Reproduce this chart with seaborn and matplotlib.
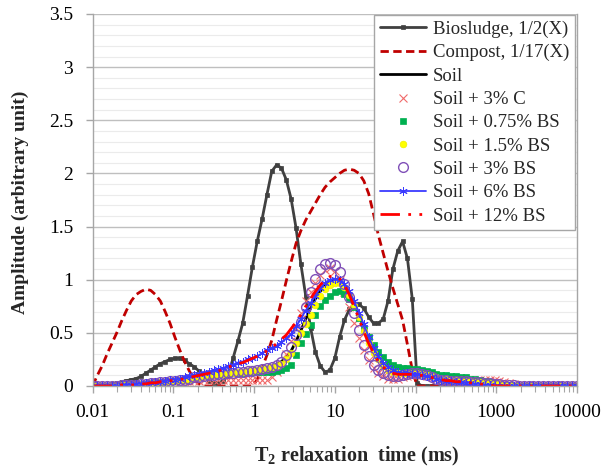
import numpy as np
import matplotlib
matplotlib.use("Agg")
import matplotlib.pyplot as plt
import seaborn as sns
from matplotlib.ticker import FixedLocator, NullFormatter, LogLocator, MultipleLocator

sns.set_theme(style="white")
plt.rcParams['font.family'] = ['Liberation Serif', 'DejaVu Serif']
plt.rcParams['mathtext.fontset'] = 'custom'
plt.rcParams['mathtext.rm'] = 'Liberation Serif:bold'
plt.rcParams['mathtext.it'] = 'Liberation Serif:bold'
plt.rcParams['mathtext.bf'] = 'Liberation Serif:bold'
plt.rcParams['mathtext.default'] = 'rm'

# T2 sampling grid (ms), 101 log-spaced points from 0.01 to 10000
t2_ms = np.logspace(-2, 4, 101)

biosludge = [0.00, 0.00, 0.01, 0.01, 0.02, 0.03, 0.04, 0.05, 0.06, 0.07,
             0.09, 0.12, 0.15, 0.18, 0.21, 0.23, 0.25, 0.26, 0.26, 0.24,
             0.21, 0.18, 0.14, 0.09, 0.05, 0.03, 0.03, 0.05, 0.10, 0.26,
             0.42, 0.59, 0.85, 1.12, 1.36, 1.57, 1.80, 2.02, 2.08, 2.05,
             1.94, 1.76, 1.49, 1.15, 0.85, 0.55, 0.32, 0.19, 0.13, 0.15,
             0.26, 0.46, 0.62, 0.72, 0.77, 0.77, 0.73, 0.65, 0.59, 0.59,
             0.63, 0.80, 1.10, 1.27, 1.36, 1.20, 0.82, 0.03, 0.00, 0.00,
             0.00, 0.00, 0.00, 0.00, 0.00, 0.00, 0.00, 0.00, 0.00, 0.00,
             0.00, 0.00, 0.00, 0.00, 0.00, 0.00, 0.00, 0.00, 0.00, 0.00,
             0.00, 0.00, 0.00, 0.00, 0.00, 0.00, 0.00, 0.00, 0.00, 0.00,
             0.00]

compost = [0.00, 0.10, 0.19, 0.30, 0.40, 0.50, 0.61, 0.71, 0.80, 0.86,
           0.89, 0.91, 0.90, 0.86, 0.80, 0.70, 0.59, 0.46, 0.34, 0.23,
           0.14, 0.06, 0.02, 0.00, 0.00, 0.00, 0.00, 0.00, 0.00, 0.00,
           0.00, 0.00, 0.00, 0.00, 0.06, 0.17, 0.29, 0.43, 0.62, 0.80,
           0.99, 1.17, 1.34, 1.46, 1.56, 1.64, 1.72, 1.80, 1.87, 1.92,
           1.96, 2.00, 2.03, 2.04, 2.03, 2.00, 1.93, 1.81, 1.62, 1.42,
           1.25, 1.08, 0.92, 0.77, 0.62, 0.39, 0.15, 0.00, 0.00, 0.00,
           0.00, 0.00, 0.00, 0.00, 0.00, 0.00, 0.00, 0.00, 0.00, 0.00,
           0.00, 0.00, 0.00, 0.00, 0.00, 0.00, 0.00, 0.00, 0.00, 0.00,
           0.00, 0.00, 0.00, 0.00, 0.00, 0.00, 0.00, 0.00, 0.00, 0.00,
           0.00]

soil = [0.00, 0.00, 0.00, 0.00, 0.00, 0.00, 0.01, 0.01, 0.01, 0.01,
        0.02, 0.02, 0.03, 0.03, 0.04, 0.04, 0.05, 0.05, 0.06, 0.06,
        0.07, 0.08, 0.08, 0.09, 0.10, 0.10, 0.11, 0.11, 0.12, 0.12,
        0.13, 0.13, 0.14, 0.14, 0.15, 0.16, 0.17, 0.18, 0.20, 0.23,
        0.27, 0.33, 0.42, 0.52, 0.63, 0.73, 0.82, 0.89, 0.95, 0.99,
        1.00, 0.99, 0.95, 0.88, 0.78, 0.67, 0.55, 0.43, 0.33, 0.26,
        0.20, 0.16, 0.13, 0.12, 0.12, 0.12, 0.12, 0.12, 0.11, 0.10,
        0.09, 0.08, 0.07, 0.07, 0.06, 0.06, 0.05, 0.05, 0.05, 0.04,
        0.04, 0.03, 0.03, 0.02, 0.02, 0.01, 0.01, 0.00, 0.00, 0.00,
        0.00, 0.00, 0.00, 0.00, 0.00, 0.00, 0.00, 0.00, 0.00, 0.00,
        0.00]

soil_3c = [0.00, 0.00, 0.00, 0.00, 0.00, 0.00, 0.01, 0.01, 0.01, 0.01,
           0.01, 0.02, 0.02, 0.02, 0.03, 0.03, 0.03, 0.04, 0.04, 0.04,
           0.05, 0.05, 0.05, 0.06, 0.06, 0.06, 0.06, 0.06, 0.06, 0.06,
           0.06, 0.06, 0.06, 0.06, 0.06, 0.06, 0.06, 0.08, 0.13, 0.21,
           0.30, 0.42, 0.55, 0.69, 0.80, 0.88, 0.97, 1.04, 1.09, 1.11,
           1.08, 1.00, 0.88, 0.74, 0.59, 0.45, 0.34, 0.24, 0.17, 0.12,
           0.09, 0.07, 0.07, 0.07, 0.08, 0.09, 0.10, 0.10, 0.10, 0.09,
           0.08, 0.07, 0.06, 0.05, 0.04, 0.04, 0.04, 0.04, 0.05, 0.05,
           0.06, 0.06, 0.06, 0.06, 0.05, 0.04, 0.03, 0.02, 0.01, 0.01,
           0.00, 0.00, 0.00, 0.00, 0.00, 0.00, 0.00, 0.00, 0.00, 0.00,
           0.00]

soil_075bs = [0.00, 0.00, 0.00, 0.00, 0.00, 0.00, 0.01, 0.01, 0.01, 0.01,
              0.02, 0.02, 0.03, 0.03, 0.04, 0.04, 0.05, 0.05, 0.06, 0.06,
              0.07, 0.08, 0.08, 0.09, 0.10, 0.10, 0.11, 0.11, 0.12, 0.12,
              0.12, 0.12, 0.13, 0.13, 0.13, 0.13, 0.13, 0.13, 0.14, 0.15,
              0.17, 0.20, 0.29, 0.40, 0.49, 0.57, 0.67, 0.75, 0.81, 0.85,
              0.88, 0.89, 0.87, 0.82, 0.74, 0.64, 0.55, 0.46, 0.39, 0.32,
              0.27, 0.23, 0.20, 0.18, 0.17, 0.17, 0.16, 0.16, 0.15, 0.14,
              0.13, 0.11, 0.10, 0.10, 0.09, 0.09, 0.08, 0.08, 0.07, 0.07,
              0.06, 0.05, 0.04, 0.03, 0.02, 0.01, 0.01, 0.00, 0.00, 0.00,
              0.00, 0.00, 0.00, 0.00, 0.00, 0.00, 0.00, 0.00, 0.00, 0.00,
              0.00]

soil_15bs = [0.00, 0.00, 0.00, 0.00, 0.00, 0.00, 0.01, 0.01, 0.01, 0.01,
             0.02, 0.02, 0.03, 0.03, 0.04, 0.04, 0.05, 0.05, 0.06, 0.06,
             0.07, 0.08, 0.08, 0.09, 0.10, 0.10, 0.11, 0.11, 0.12, 0.12,
             0.13, 0.13, 0.14, 0.14, 0.15, 0.16, 0.17, 0.18, 0.19, 0.21,
             0.25, 0.31, 0.40, 0.50, 0.58, 0.67, 0.76, 0.85, 0.91, 0.95,
             0.97, 0.97, 0.93, 0.86, 0.76, 0.65, 0.52, 0.40, 0.31, 0.25,
             0.19, 0.15, 0.13, 0.12, 0.12, 0.12, 0.12, 0.12, 0.11, 0.10,
             0.09, 0.08, 0.07, 0.07, 0.06, 0.06, 0.05, 0.05, 0.05, 0.04,
             0.04, 0.03, 0.03, 0.02, 0.02, 0.01, 0.01, 0.00, 0.00, 0.00,
             0.00, 0.00, 0.00, 0.00, 0.00, 0.00, 0.00, 0.00, 0.00, 0.00,
             0.00]

soil_3bs = [0.00, 0.00, 0.00, 0.00, 0.00, 0.00, 0.01, 0.01, 0.01, 0.01,
            0.02, 0.02, 0.03, 0.03, 0.04, 0.04, 0.05, 0.05, 0.06, 0.06,
            0.07, 0.08, 0.08, 0.09, 0.10, 0.10, 0.11, 0.11, 0.12, 0.12,
            0.13, 0.13, 0.14, 0.14, 0.15, 0.16, 0.17, 0.18, 0.20, 0.23,
            0.29, 0.37, 0.48, 0.60, 0.74, 0.88, 1.01, 1.10, 1.15, 1.16,
            1.14, 1.07, 0.96, 0.84, 0.69, 0.53, 0.39, 0.28, 0.20, 0.15,
            0.12, 0.10, 0.09, 0.09, 0.10, 0.11, 0.12, 0.12, 0.11, 0.10,
            0.08, 0.07, 0.06, 0.06, 0.05, 0.05, 0.05, 0.05, 0.04, 0.04,
            0.04, 0.03, 0.03, 0.02, 0.02, 0.01, 0.01, 0.01, 0.00, 0.00,
            0.00, 0.00, 0.00, 0.00, 0.00, 0.00, 0.00, 0.00, 0.00, 0.00,
            0.00]

soil_6bs = [0.00, 0.00, 0.00, 0.00, 0.00, 0.00, 0.01, 0.01, 0.01, 0.02,
            0.02, 0.03, 0.03, 0.04, 0.04, 0.05, 0.06, 0.06, 0.07, 0.08,
            0.09, 0.10, 0.11, 0.12, 0.13, 0.15, 0.16, 0.17, 0.19, 0.20,
            0.22, 0.23, 0.25, 0.26, 0.28, 0.31, 0.34, 0.36, 0.38, 0.41,
            0.45, 0.49, 0.56, 0.63, 0.71, 0.78, 0.85, 0.92, 0.97, 1.00,
            1.01, 1.00, 0.96, 0.89, 0.80, 0.69, 0.58, 0.46, 0.36, 0.28,
            0.22, 0.18, 0.15, 0.13, 0.12, 0.12, 0.11, 0.11, 0.10, 0.09,
            0.08, 0.07, 0.06, 0.05, 0.05, 0.04, 0.04, 0.03, 0.03, 0.02,
            0.02, 0.01, 0.01, 0.00, 0.00, 0.00, 0.00, 0.00, 0.00, 0.00,
            0.00, 0.00, 0.00, 0.00, 0.00, 0.00, 0.00, 0.00, 0.00, 0.00,
            0.00]

soil_12bs = [0.00, 0.00, 0.00, 0.00, 0.00, 0.00, 0.01, 0.01, 0.01, 0.01,
             0.02, 0.02, 0.03, 0.03, 0.04, 0.04, 0.05, 0.05, 0.06, 0.07,
             0.08, 0.09, 0.10, 0.11, 0.12, 0.13, 0.14, 0.16, 0.18, 0.19,
             0.21, 0.22, 0.24, 0.26, 0.28, 0.31, 0.33, 0.36, 0.40, 0.44,
             0.48, 0.54, 0.60, 0.67, 0.75, 0.82, 0.89, 0.95, 1.00, 1.03,
             1.04, 1.01, 0.95, 0.86, 0.75, 0.63, 0.51, 0.40, 0.31, 0.23,
             0.18, 0.14, 0.12, 0.11, 0.11, 0.11, 0.11, 0.10, 0.10, 0.09,
             0.08, 0.07, 0.06, 0.05, 0.05, 0.04, 0.04, 0.03, 0.03, 0.02,
             0.02, 0.01, 0.01, 0.00, 0.00, 0.00, 0.00, 0.00, 0.00, 0.00,
             0.00, 0.00, 0.00, 0.00, 0.00, 0.00, 0.00, 0.00, 0.00, 0.00,
             0.00]

labels = ["Biosludge, 1/2(X)", "Compost, 1/17(X)", "Soil", "Soil + 3% C",
          "Soil + 0.75% BS", "Soil + 1.5% BS", "Soil + 3% BS", "Soil + 6% BS",
          "Soil + 12% BS"]
x_tick_vals = [0.01, 0.1, 1, 10, 100, 1000, 10000]
x_tick_labels = ["0.01", "0.1", "1", "10", "100", "1000", "10000"]
y_tick_vals = [0, 0.5, 1, 1.5, 2, 2.5, 3, 3.5]
y_tick_labels = ["0", "0.5", "1", "1.5", "2", "2.5", "3", "3.5"]

W, H = 605, 466
fig = plt.figure(figsize=(W / 100, H / 100), dpi=100)
ax = fig.add_axes([92.5 / W, 1 - 386 / H, (577 - 92.5) / W, (386 - 14) / H])
ax.set_facecolor("white")

def draw(y, **kw):
    sns.lineplot(x=t2_ms, y=y, ax=ax, errorbar=None, sort=False, legend=False, **kw)

draw(biosludge, label=labels[0], color="#404040", lw=2.0, marker="s", ms=3.4,
     mec="#404040", mfc="#404040", mew=0.5)
draw(compost, label=labels[1], color="#C00000", lw=2.0, linestyle=(0, (3, 1.6)))
draw(soil, label=labels[2], color="black", lw=2.0)
draw(soil_3c, label=labels[3], color="#F06A6A", linestyle="none", marker="x",
     ms=6.0, mec="#F06A6A", mew=0.8)
draw(soil_075bs, label=labels[4], color="#00B050", linestyle="none", marker="s",
     ms=4.2, mec="#00B050", mfc="#00B050", mew=0.5)
draw(soil_15bs, label=labels[5], color="#FFFF00", linestyle="none", marker="o",
     ms=4.8, mec="#EEEE00", mfc="#FFFF00", mew=0.5)
draw(soil_3bs, label=labels[6], color="#8050B8", linestyle="none", marker="o",
     ms=7.0, mec="#8050B8", mfc="none", mew=1.0)
draw(soil_6bs, label=labels[7], color="#3A3AFF", lw=1.3, marker=(6, 2, 0),
     ms=6.0, mec="#3A3AFF", mew=0.7)
draw(soil_12bs, label=labels[8], color="#FF0000", lw=2.0,
     linestyle=(0, (7, 3, 1, 3, 1, 3)))

ax.set_xscale("log")
ax.set_xlim(0.01, 10000)
ax.set_ylim(0, 3.5)

ax.xaxis.set_major_locator(FixedLocator(x_tick_vals))
ax.set_xticklabels(x_tick_labels)
ax.xaxis.set_minor_locator(LogLocator(base=10, subs=[2, 3, 4, 5, 6, 7, 8, 9], numticks=20))
ax.xaxis.set_minor_formatter(NullFormatter())
ax.yaxis.set_major_locator(FixedLocator(y_tick_vals))
ax.set_yticklabels(y_tick_labels)
ax.yaxis.set_minor_locator(MultipleLocator(0.1))

gc = "#A6A6A6"
ax.tick_params(axis="x", which="major", direction="out", length=5, width=1, color=gc,
               labelsize=14, pad=8, labelcolor="black", bottom=True)
ax.tick_params(axis="x", which="minor", direction="out", length=4, width=0.8, color=gc,
               bottom=True)
ax.tick_params(axis="y", which="major", direction="out", length=5, width=1, color=gc,
               labelsize=14, pad=9, labelcolor="black", left=True)
ax.tick_params(axis="y", which="minor", length=0)

ax.grid(False)
ax.set_axisbelow(True)
ax.yaxis.grid(True, which="major", color="#BFBFBF", lw=1.0)
ax.yaxis.grid(True, which="minor", color="#EBEBEB", lw=0.8)
for side in ["left", "bottom", "right", "top"]:
    ax.spines[side].set_visible(True)
    ax.spines[side].set_color(gc)
    ax.spines[side].set_linewidth(1.0)
ax.spines["top"].set_visible(False)

ax.set_xlabel("")
ax.set_ylabel("")
fig.text(20 / W, 1 - 202 / H, "Amplitude (arbitrary unit)", rotation=90,
         ha="center", va="center", fontsize=14, fontweight="bold")
fig.text(357 / W, 1 - 461 / H, r"T$_{2}$ relaxation  time (ms)",
         ha="center", va="baseline", fontsize=14.5, fontweight="bold")

handles, labs = ax.get_legend_handles_labels()
leg = ax.legend(handles, labs, loc="upper right",
                bbox_to_anchor=(575 / W, 1 - 15 / H), bbox_transform=fig.transFigure,
                frameon=True, fancybox=False, framealpha=1, facecolor="white",
                edgecolor=gc, fontsize=13.5, handlelength=2.5, handletextpad=0.35,
                labelspacing=0.33, borderpad=0.3, borderaxespad=0, numpoints=1)
leg.get_frame().set_linewidth(1.0)

fig.savefig("out.png", dpi=100, facecolor="white")
